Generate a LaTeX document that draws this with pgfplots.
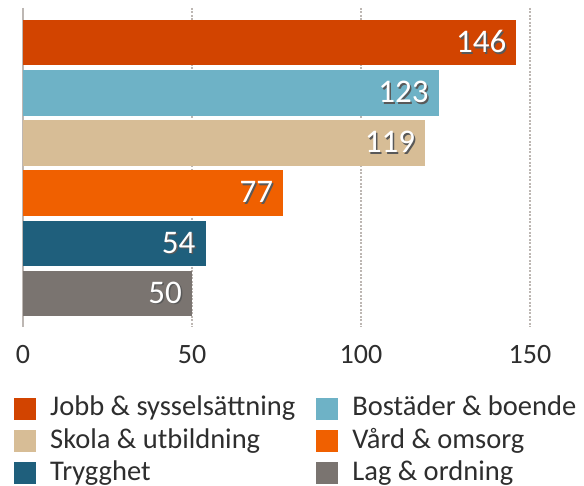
\documentclass[border=0pt]{standalone}
\usepackage{fontspec}
\setmainfont{Carlito}
\usepackage{pgfplots}
\pgfplotsset{compat=1.18}
\definecolor{cJobb}{HTML}{D24400}
\definecolor{cBost}{HTML}{6EB2C6}
\definecolor{cSkola}{HTML}{D7BD96}
\definecolor{cVard}{HTML}{F06000}
\definecolor{cTrygg}{HTML}{1F5F7C}
\definecolor{cLag}{HTML}{7A7470}
\definecolor{txt}{HTML}{2E2E2E}
\definecolor{gridc}{HTML}{BDB7B3}
\newcommand\shtext[1]{\leavevmode\rlap{\kern1.6pt\raisebox{-1.6pt}{\textcolor{black!65}{#1}}}\textcolor{white}{#1}}
\begin{document}
\begin{tikzpicture}
\useasboundingbox (-23pt,-159.3pt) rectangle (561pt,326.7pt);
\begin{axis}[
  scale only axis,
  width=540.8pt, height=318.7pt,
  xbar, bar width=45.5pt, bar shift=0pt,
  xmin=0, xmax=160,
  ymin=-0.69, ymax=5.66, y dir=reverse,
  ytick=\empty,
  xtick={0,50,100,150},
  extra x ticks={0}, extra x tick labels={},
  extra x tick style={grid=major, major grid style={solid, draw=gridc, line width=1.3pt}},
  xmajorgrids,
  major grid style={draw=gridc, line width=1.5pt, dash pattern=on 2pt off 1.5pt},
  major tick length=0pt,
  axis line style={draw=none},
  tick label style={font=\fontsize{28}{32}\selectfont, text=txt, inner sep=0pt},
  /pgf/number format/assume math mode=true,
  xticklabel style={yshift=-18pt},
  point meta=x,
  nodes near coords={\shtext{\pgfmathprintnumber{\pgfplotspointmeta}}},
  nodes near coords style={anchor=east, font=\fontsize{33}{36}\selectfont, inner sep=0pt, xshift=-10pt},
  legend columns=2,
  legend cell align=left,
  legend image code/.code={\fill[#1] (0pt,-11pt) rectangle (22pt,11pt);},
  legend style={at={(0,0)}, anchor=north west, xshift=-9pt, yshift=-67pt, draw=none, inner sep=0pt,
    font=\fontsize{28.5}{33}\selectfont, text=txt, row sep=2.2pt,
    /tikz/every odd column/.style={column sep=7pt},
    /tikz/every even column/.style={column sep=14pt},
    nodes={inner xsep=7pt, inner ysep=0pt, text height=22pt, text depth=8pt}},
]
\addplot[fill=cJobb, draw=none] coordinates {(146,0)};
\addplot[fill=cBost, draw=none] coordinates {(123,1)};
\addplot[fill=cSkola, draw=none] coordinates {(119,2)};
\addplot[fill=cVard, draw=none] coordinates {(77,3)};
\addplot[fill=cTrygg, draw=none] coordinates {(54,4)};
\addplot[fill=cLag, draw=none] coordinates {(50,5)};
\legend{Jobb \& sysselsättning, Bostäder \& boende, Skola \& utbildning, Vård \& omsorg, Trygghet, Lag \& ordning}
\end{axis}
\end{tikzpicture}
\end{document}
